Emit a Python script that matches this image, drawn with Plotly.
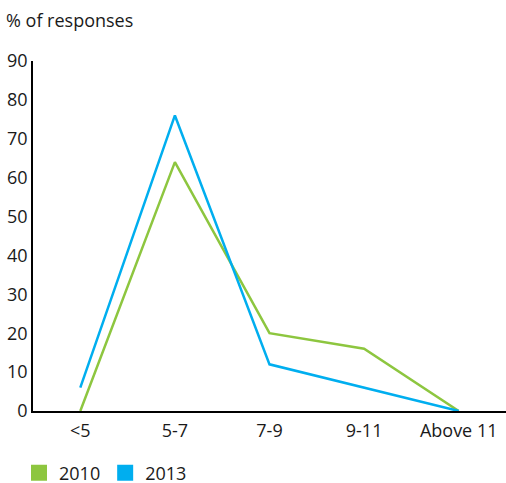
import plotly.graph_objects as go

categories = ["<5", "5-7", "7-9", "9-11", "Above 11"]
values_2010 = [0, 64, 20, 16, 0]
values_2013 = [6, 76, 12, 6, 0]
y_ticks = [0, 10, 20, 30, 40, 50, 60, 70, 80, 90]

GREEN = "#8dc63f"
BLUE = "#00aeef"
FONT = "Open Sans"

fig = go.Figure()
for name, vals, color in [("2010", values_2010, GREEN), ("2013", values_2013, BLUE)]:
    fig.add_trace(go.Scatter(
        x=categories, y=vals, mode="lines", name=name,
        line=dict(color=color, width=2.5), showlegend=False,
    ))
    # square swatch for the legend
    fig.add_trace(go.Scatter(
        x=[None], y=[None], mode="markers", name=name,
        marker=dict(symbol="square", color=color, size=16),
    ))

fig.update_layout(
    width=506, height=483,
    margin=dict(l=33, r=0, t=61, b=72, autoexpand=False),
    plot_bgcolor="white", paper_bgcolor="white",
    font=dict(family=FONT, size=18, color="#1a1a1a"),
    xaxis=dict(
        type="category", range=[-0.5, 4.5],
        showgrid=False, showline=True, linecolor="black", linewidth=1.5,
        ticks="", ticklabelstandoff=3, tickfont=dict(size=18), fixedrange=True,
    ),
    yaxis=dict(
        range=[0, 90], tickvals=y_ticks,
        showgrid=False, showline=True, linecolor="black", linewidth=1.5,
        ticks="", ticklabelstandoff=0, tickfont=dict(size=18), zeroline=False,
    ),
    legend=dict(
        orientation="h", x=-14/473, y=-62/350, xanchor="left", yanchor="middle",
        font=dict(size=18), itemwidth=30, tracegroupgap=0,
    ),
    annotations=[dict(
        text="% of responses", xref="paper", yref="paper",
        x=-29/473, y=1 + (61 - 20) / 350, xanchor="left", yanchor="middle",
        showarrow=False, font=dict(size=18),
    )],
)

fig.write_html("out.html")
